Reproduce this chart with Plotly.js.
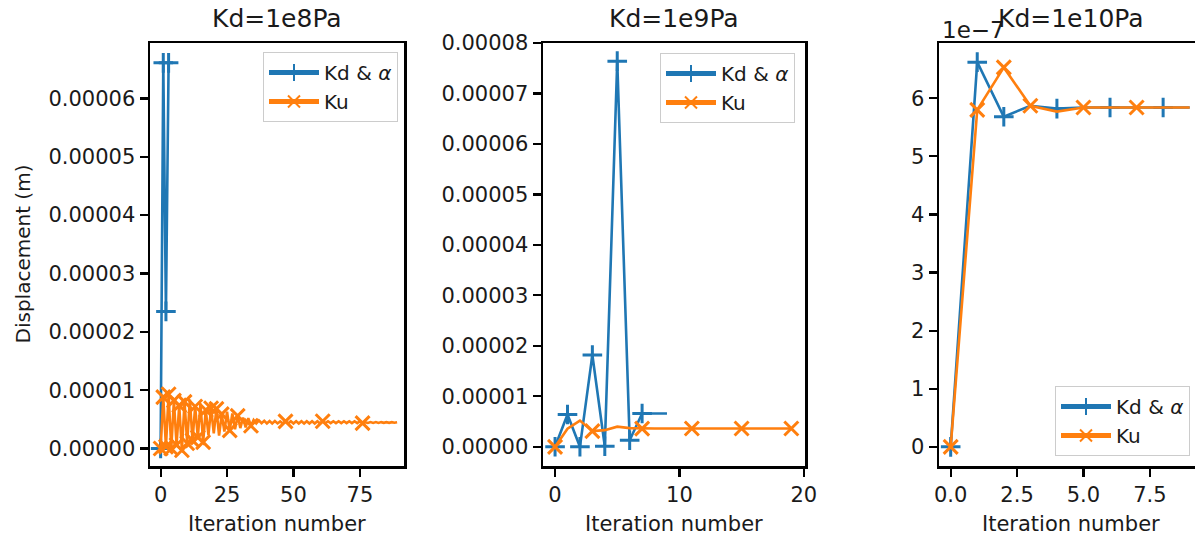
<!DOCTYPE html>
<html>
<head>
<meta charset="utf-8">
<script src="https://cdn.plot.ly/plotly-3.0.1.min.js"></script>
<style>html,body{margin:0;padding:0;background:#fff;}#chart{width:1195px;height:538px;}</style>
</head>
<body>
<div id="chart"></div>
<script>
// ---------------- data ----------------
const panelTitles = ['Kd=1e8Pa', 'Kd=1e9Pa', 'Kd=1e10Pa'];
const seriesNames = ['Kd &amp; <i>α</i>', 'Ku'];
const xLabel = 'Iteration number';
const yLabel = 'Displacement (m)';

// Panel 1: Kd = 1e8 Pa
const iter1Blue = [0, 1, 2, 3];
const kdAlpha1 = [0, 6.61e-5, 2.35e-5, 6.61e-5];
const iter1Orange = [0,1,2,3,4,5,6,7,8,9,10,11,12,13,14,15,16,17,18,19,20,21,22,23,24,25,26,27,28,29,
  30,31,32,33,34,35,36,37,38,39,40,41,42,43,44,45,46,47,48,49,50,51,52,53,54,55,56,57,58,59,
  60,61,62,63,64,65,66,67,68,69,70,71,72,73,74,75,76,77,78,79,80,81,82,83,84,85,86,87,88,89];
const ku1 = [
  0, 8.8e-6, 0.3e-6, 9.3e-6, 0.0, 8.2e-6, 0.6e-6, 7.4e-6, -0.3e-6, 8.0e-6,
  0.9e-6, 8.4e-6, 1.4e-6, 7.2e-6, 1.9e-6, 7.7e-6, 1.1e-6, 6.6e-6, 2.3e-6, 6.9e-6,
  2.6e-6, 6.8e-6, 2.2e-6, 5.9e-6, 2.9e-6, 6.3e-6, 3.1e-6, 6.0e-6, 3.3e-6, 5.6e-6,
  3.5e-6, 5.3e-6, 3.6e-6, 5.2e-6, 3.9e-6, 4.9e-6, 4.3e-6, 4.8e-6, 4.35e-6, 4.75e-6,
  4.3e-6, 4.7e-6, 4.3e-6, 4.7e-6, 4.3e-6, 4.65e-6, 4.3e-6, 4.65e-6, 4.27e-6, 4.67e-6,
  4.27e-6, 4.67e-6, 4.27e-6, 4.67e-6, 4.27e-6, 4.67e-6, 4.27e-6, 4.67e-6, 4.27e-6, 4.67e-6,
  4.27e-6, 4.67e-6, 4.34e-6, 4.67e-6, 4.34e-6, 4.67e-6, 4.34e-6, 4.67e-6, 4.34e-6, 4.67e-6,
  4.34e-6, 4.67e-6, 4.34e-6, 4.67e-6, 4.34e-6, 4.67e-6, 4.34e-6, 4.5e-6, 4.37e-6, 4.52e-6,
  4.38e-6, 4.52e-6, 4.38e-6, 4.52e-6, 4.4e-6, 4.52e-6, 4.4e-6, 4.52e-6, 4.42e-6, 4.5e-6];

// Panel 2: Kd = 1e9 Pa
const iter2Blue = [0,1,2,3,4,5,6,7,8,9];
const kdAlpha2 = [0, 6.4e-6, 0, 1.82e-5, 0.1e-6, 7.64e-5, 1.3e-6, 6.6e-6, 6.6e-6, 6.6e-6];
const iter2Orange = [0,1,2,3,4,5,6,7,8,9,10,11,12,13,14,15,16,17,18,19];
const ku2 = [0, 3.6e-6, 5.2e-6, 3.1e-6, 3.3e-6, 4.0e-6, 3.7e-6, 3.6e-6, 3.62e-6, 3.62e-6,
  3.62e-6, 3.62e-6, 3.62e-6, 3.62e-6, 3.62e-6, 3.62e-6, 3.62e-6, 3.62e-6, 3.62e-6, 3.62e-6];

// Panel 3: Kd = 1e10 Pa
const iter3 = [0,1,2,3,4,5,6,7,8,9];
const kdAlpha3 = [0, 6.62e-7, 5.68e-7, 5.87e-7, 5.82e-7, 5.84e-7, 5.84e-7, 5.84e-7, 5.84e-7, 5.84e-7];
const ku3 = [0, 5.80e-7, 6.53e-7, 5.87e-7, 5.77e-7, 5.84e-7, 5.84e-7, 5.84e-7, 5.84e-7, 5.84e-7];

// tick labels
const yTickLabels3 = ['0','1','2','3','4','5','6'];
const yOffset3 = 1e-7;
const yOffsetText3 = '1e\u22127';

// ---------------- styling / layout ----------------
const W = 1195, H = 538;
const BLUE = '#1f77b4', ORANGE = '#ff7f0e';
const FONT = 'DejaVu Sans';
const TXT = '#1a1a1a';
const px = p => p / W;
const py = p => 1 - p / H;

const axTop = 43, axBot = 466;
const panels = [
  {x0: 150, x1: 404, xr: [-4.0, 91.6], yr: [-3.0e-6, 6.95e-5]},
  {x0: 543, x1: 805, xr: [-0.97, 20.1], yr: [-3.8e-6, 8.0e-5]},
  {x0: 939, x1: 1195, xr: [-0.44, 9.2], yr: [-0.33e-7, 6.95e-7]}
];

// matplotlib-like markevery (float): markers spaced evenly along the drawn path
function markEvery(xs, ys, p, frac) {
  const w = p.x1 - p.x0, h = axBot - axTop;
  const qx = xs.map(v => (v - p.xr[0]) / (p.xr[1] - p.xr[0]) * w);
  const qy = ys.map(v => (v - p.yr[0]) / (p.yr[1] - p.yr[0]) * h);
  const cum = [0];
  for (let i = 1; i < xs.length; i++) cum.push(cum[i-1] + Math.hypot(qx[i]-qx[i-1], qy[i]-qy[i-1]));
  const step = frac * Math.hypot(w, h);
  const set = new Set();
  for (let d = 0; d < cum[cum.length-1]; d += step) {
    let best = 0, bd = Infinity;
    cum.forEach((c, i) => { const e = Math.abs(c - d); if (e < bd) { bd = e; best = i; } });
    set.add(best);
  }
  return set;
}
function sizesFrom(n, set, s) { return Array.from({length: n}, (_, i) => set.has(i) ? s : 0); }

const MS = 14, MLW = 3, LW = 2.6;
function trace(xs, ys, color, symbol, markSet, axisIdx, name, legendId) {
  const suffix = axisIdx === 1 ? '' : String(axisIdx);
  return {
    type: 'scatter', mode: 'lines+markers', x: xs, y: ys, name: name,
    xaxis: 'x' + suffix, yaxis: 'y' + suffix, legend: legendId,
    line: {color: color, width: LW},
    marker: {symbol: symbol, color: color, opacity: 1, size: sizesFrom(xs.length, markSet, MS),
             line: {color: color, width: sizesFrom(xs.length, markSet, MLW)}},
    hoverinfo: 'skip'
  };
}

const traces = [
  trace(iter1Blue, kdAlpha1, BLUE, 'cross-thin-open', markEvery(iter1Blue, kdAlpha1, panels[0], 0.1), 1, seriesNames[0], 'legend'),
  trace(iter1Orange, ku1, ORANGE, 'x-thin-open', markEvery(iter1Orange, ku1, panels[0], 0.1), 1, seriesNames[1], 'legend'),
  trace(iter2Blue, kdAlpha2, BLUE, 'cross-thin-open', new Set([0,1,2,3,4,5,6,7]), 2, seriesNames[0], 'legend2'),
  trace(iter2Orange, ku2, ORANGE, 'x-thin-open', new Set([0,3,7,11,15,19]), 2, seriesNames[1], 'legend2'),
  trace(iter3, kdAlpha3, BLUE, 'cross-thin-open', new Set([0,1,2,4,6,8]), 3, seriesNames[0], 'legend3'),
  trace(iter3, ku3, ORANGE, 'x-thin-open', new Set([0,1,2,3,5,7]), 3, seriesNames[1], 'legend3')
];

const tickFont = {family: FONT, size: 21, color: TXT};
function xAxis(p, extra) {
  return Object.assign({
    domain: [px(p.x0), px(p.x1)], range: p.xr, showgrid: false, zeroline: false,
    showline: true, linecolor: '#000', linewidth: 2.5, mirror: true,
    ticks: 'outside', ticklen: 8, tickwidth: 2.2, tickcolor: '#000',
    tickfont: tickFont, automargin: false, fixedrange: true
  }, extra);
}
function yAxis(p, extra) {
  return Object.assign({
    domain: [py(axBot), py(axTop)], range: p.yr, showgrid: false, zeroline: false,
    showline: true, linecolor: '#000', linewidth: 2.5, mirror: true,
    ticks: 'outside', ticklen: 8, tickwidth: 2.2, tickcolor: '#000',
    tickfont: tickFont, automargin: false, fixedrange: true
  }, extra);
}

const legendBase = {
  bgcolor: 'rgba(255,255,255,0.8)', bordercolor: '#cccccc', borderwidth: 1,
  font: {family: FONT, size: 20, color: TXT}, itemsizing: 'constant', itemwidth: 50,
  xref: 'paper', yref: 'paper', tracegroupgap: 0
};

const annotations = [];
panels.forEach((p, i) => {
  const cx = (p.x0 + (i === 2 ? 1203 : p.x1)) / 2;
  annotations.push({text: panelTitles[i], x: px(cx), y: py(19),
    xref: 'paper', yref: 'paper', showarrow: false, xanchor: 'center', yanchor: 'middle',
    font: {family: FONT, size: 25, color: TXT}});
  annotations.push({text: xLabel, x: px(cx), y: py(524),
    xref: 'paper', yref: 'paper', showarrow: false, xanchor: 'center', yanchor: 'middle',
    font: {family: FONT, size: 21, color: TXT}});
});
annotations.push({text: yLabel, x: px(22), y: py((axTop + axBot) / 2), textangle: -90,
  xref: 'paper', yref: 'paper', showarrow: false, xanchor: 'center', yanchor: 'middle',
  font: {family: FONT, size: 20, color: TXT}});
annotations.push({text: yOffsetText3, x: px(940), y: py(30),
  xref: 'paper', yref: 'paper', showarrow: false, xanchor: 'left', yanchor: 'middle',
  font: {family: FONT, size: 23, color: TXT}});

const layout = {
  width: W, height: H, margin: {l: 0, r: 0, t: 0, b: 0},
  paper_bgcolor: '#fff', plot_bgcolor: '#fff', hovermode: false,
  xaxis: xAxis(panels[0], {anchor: 'y', tickmode: 'linear', tick0: 0, dtick: 25}),
  yaxis: yAxis(panels[0], {anchor: 'x', tickmode: 'linear', tick0: 0, dtick: 1e-5, tickformat: '.5f'}),
  xaxis2: xAxis(panels[1], {anchor: 'y2', tickmode: 'linear', tick0: 0, dtick: 10}),
  yaxis2: yAxis(panels[1], {anchor: 'x2', tickmode: 'linear', tick0: 0, dtick: 1e-5, tickformat: '.5f'}),
  xaxis3: xAxis(panels[2], {anchor: 'y3', tickmode: 'linear', tick0: 0, dtick: 2.5, tickformat: '.1f'}),
  yaxis3: yAxis(panels[2], {anchor: 'x3', mirror: false, tickmode: 'array',
    tickvals: yTickLabels3.map(t => Number(t) * yOffset3), ticktext: yTickLabels3}),
  legend: Object.assign({}, legendBase, {x: px(398), y: py(52), xanchor: 'right', yanchor: 'top'}),
  legend2: Object.assign({}, legendBase, {x: px(795), y: py(53), xanchor: 'right', yanchor: 'top'}),
  legend3: Object.assign({}, legendBase, {x: px(1190), y: py(456), xanchor: 'right', yanchor: 'bottom'}),
  annotations: annotations,
  showlegend: true
};

Plotly.newPlot('chart', traces, layout, {staticPlot: true, displayModeBar: false});
</script>
</body>
</html>
